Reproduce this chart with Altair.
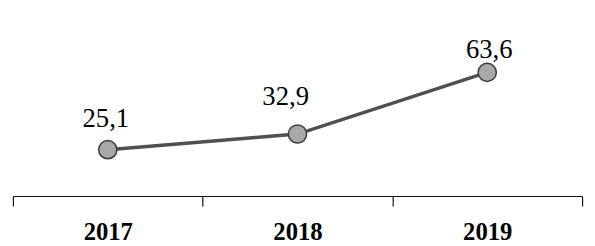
import altair as alt
import pandas as pd

years = ["2017", "2018", "2019"]
values = [25.1, 32.9, 63.6]
labels = ["25,1", "32,9", "63,6"]

df = pd.DataFrame({"year": years, "value": values, "label": labels})

x_enc = alt.X(
    "year:N",
    sort=years,
    scale=alt.Scale(paddingInner=0, paddingOuter=0),
    axis=alt.Axis(
        title=None,
        labelAngle=0,
        tickBand="extent",
        tickSize=10,
        tickColor="#111",
        domainColor="#111",
        domainWidth=1.2,
        tickWidth=1.2,
        labelFont="Liberation Serif",
        labelFontSize=25,
        labelFontWeight="bold",
        labelColor="#000",
        labelPadding=14,
    ),
)
y_enc = alt.Y(
    "value:Q",
    scale=alt.Scale(domain=[2, 88], zero=False, nice=False),
    axis=None,
)

base = alt.Chart(df).encode(x=x_enc, y=y_enc)

line = base.mark_line(color="#505050", strokeWidth=3.5)
pts = base.mark_point(
    shape="circle", filled=True, size=340, color="#a8a8a8",
    stroke="#3a3a3a", strokeWidth=1.5, opacity=1
)

offsets = {"2017": (-2, -23), "2018": (-12, -29), "2019": (2, -15)}
texts = []
for yr in years:
    dx, dy = offsets[yr]
    texts.append(
        base.transform_filter(alt.datum.year == yr)
        .mark_text(font="Liberation Serif", fontSize=27, color="#000",
                   baseline="alphabetic", align="center", dx=dx, dy=dy)
        .encode(text="label:N")
    )

chart = alt.layer(line, pts, *texts).properties(
    width=577,
    height=175,
    background="white",
    autosize=alt.AutoSizeParams(type="none"),
    padding={"left": 5, "top": 14, "right": 5, "bottom": 48},
).configure_view(strokeWidth=0, stroke="transparent")

chart.save("out.html", embed_options={"renderer": "svg", "actions": False})
